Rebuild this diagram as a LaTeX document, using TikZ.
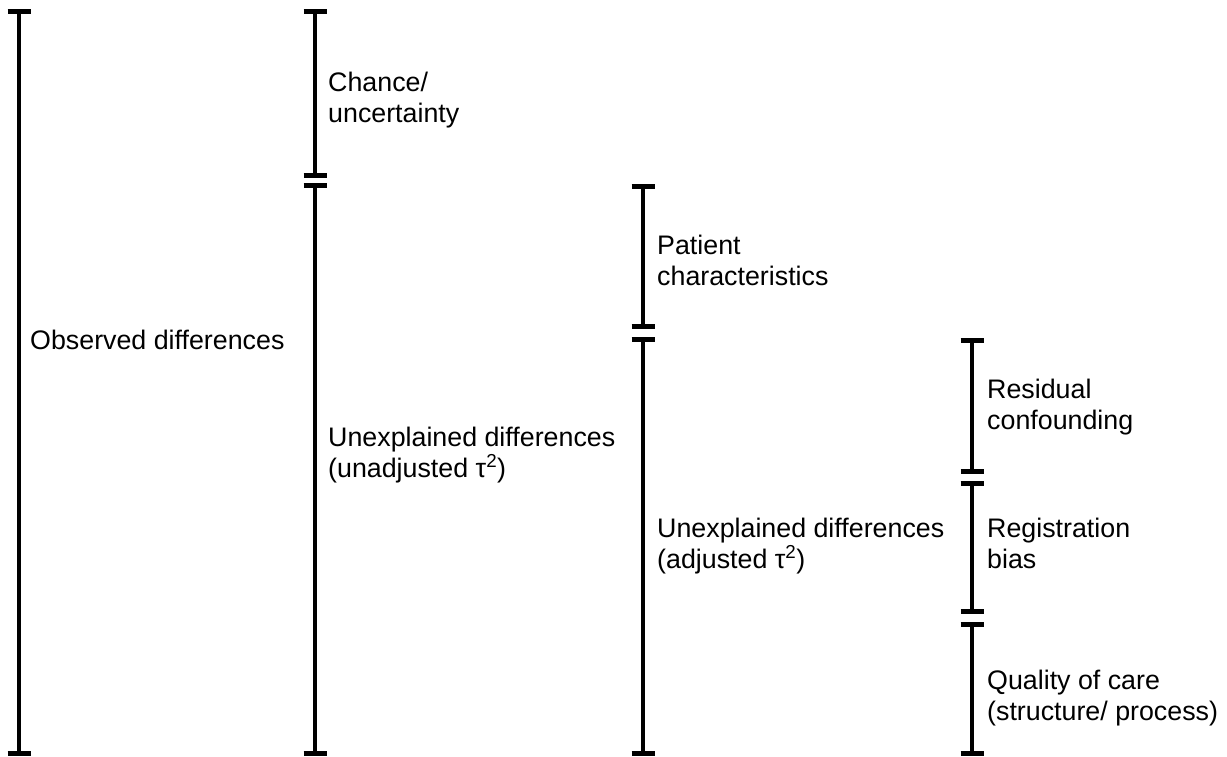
\documentclass[tikz,border=0pt]{standalone}
\usepackage{fontspec}
\setmainfont{Liberation Sans}
\begin{document}
\begin{tikzpicture}[x=1pt,y=-1pt,
  stem/.style={line width=4.8pt,line cap=butt},
  capline/.style={line width=5pt,line cap=butt},
  lbl/.style={anchor=base west,inner sep=0pt,align=left,
    font=\fontsize{26.8}{31}\selectfont}]
\useasboundingbox (0,0) rectangle (1227,756);

% end points of the bracket segments
\coordinate (a1) at (19,11);   \coordinate (a2) at (19,753.5);
\coordinate (b1) at (315,11);  \coordinate (b2) at (315,175.5);
\coordinate (b3) at (315,185.5); \coordinate (b4) at (315,753.5);
\coordinate (c1) at (643,186.5); \coordinate (c2) at (643,326.5);
\coordinate (c3) at (643,339.5); \coordinate (c4) at (643,753.5);
\coordinate (d1) at (972,340.5); \coordinate (d2) at (972,471);
\coordinate (d3) at (972,483);   \coordinate (d4) at (972,611);
\coordinate (d5) at (972,624);   \coordinate (d6) at (972,753.5);

% stems
\foreach \p/\q in {a1/a2,b1/b2,b3/b4,c1/c2,c3/c4,d1/d2,d3/d4,d5/d6}
  \draw[stem] (\p) -- (\q);
% end caps
\foreach \p in {a1,a2,b1,b2,b3,b4,c1,c2,c3,c4,d1,d2,d3,d4,d5,d6}
  \draw[capline] ([xshift=-11.5pt]\p) -- ([xshift=11.5pt]\p);

% labels (base anchor sits on the last line of each label)
\node[lbl] (obs) at (30,349) {Observed differences};
\node[lbl] (chance) at (328,122) {Chance/\\uncertainty};
\node[lbl] (unadj) at (328,477) {Unexplained differences\\(unadjusted τ\textsuperscript{2})};
\node[lbl] (pat) at (657,285) {Patient\\characteristics};
\node[lbl] (adj) at (657,568) {Unexplained differences\\(adjusted τ\textsuperscript{2})};
\node[lbl] (resid) at (987,429) {Residual\\confounding};
\node[lbl] (reg) at (987,568) {Registration\\bias};
\node[lbl] (qual) at (987,720) {Quality of care\\(structure/ process)};
\end{tikzpicture}
\end{document}
